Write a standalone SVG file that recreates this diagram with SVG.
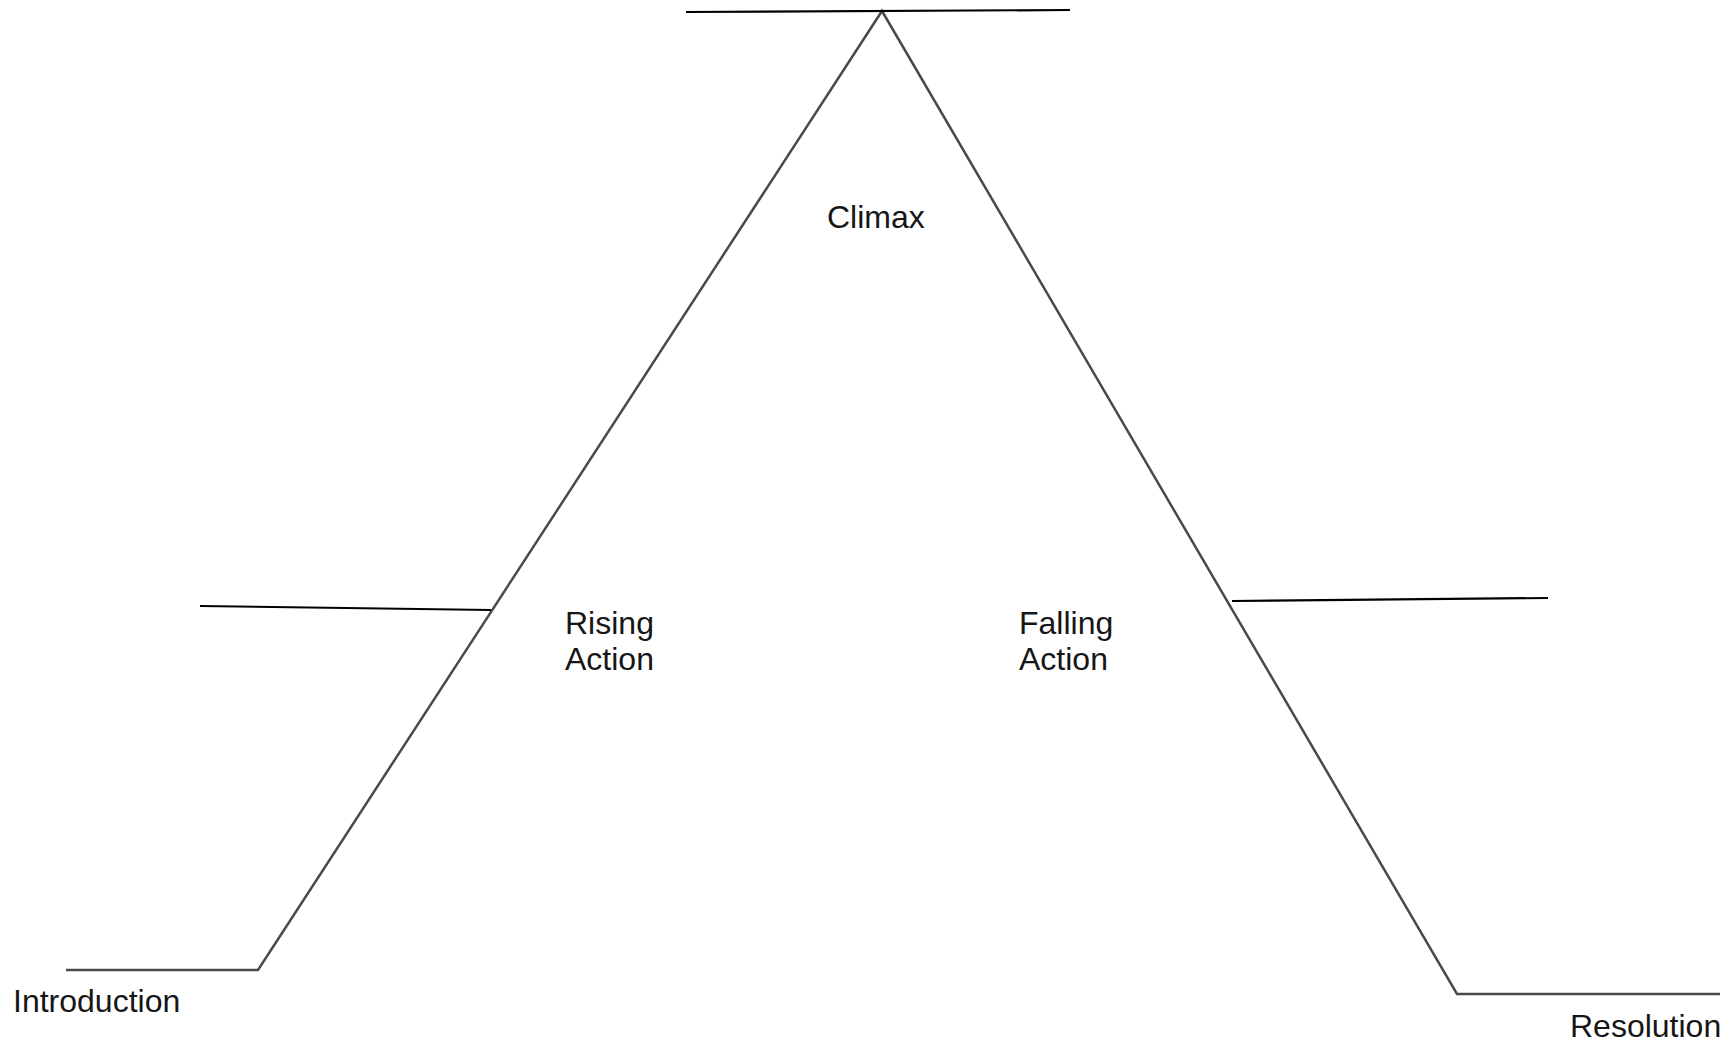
<svg xmlns="http://www.w3.org/2000/svg" width="1735" height="1044" viewBox="0 0 1735 1044">
<style>
.arc{fill:none;stroke:#4a4a4a;stroke-width:2.5;stroke-linejoin:miter}
.blank{stroke:#000;stroke-width:2.2}
.lbl{font-family:"Liberation Sans",Arial,sans-serif;font-size:32px;fill:#161616}
</style>
<rect width="1735" height="1044" fill="#fff"/>
<g id="connectors">
<path class="arc" d="M66,970 L258,970 L882,11 L1457,994 L1720,994"/>
<line class="blank" x1="686" y1="12" x2="1070" y2="10"/>
<line class="blank" x1="200" y1="606" x2="491" y2="610"/>
<line class="blank" x1="1232" y1="601" x2="1548" y2="598"/>
</g>
<g id="introduction"><text class="lbl" x="13" y="1012">Introduction</text></g>
<g id="rising-action"><text class="lbl" x="565" y="634">Rising</text><text class="lbl" x="565" y="670">Action</text></g>
<g id="climax"><text class="lbl" x="827" y="228">Climax</text></g>
<g id="falling-action"><text class="lbl" x="1019" y="634">Falling</text><text class="lbl" x="1019" y="670">Action</text></g>
<g id="resolution"><text class="lbl" x="1570" y="1037">Resolution</text></g>
</svg>
